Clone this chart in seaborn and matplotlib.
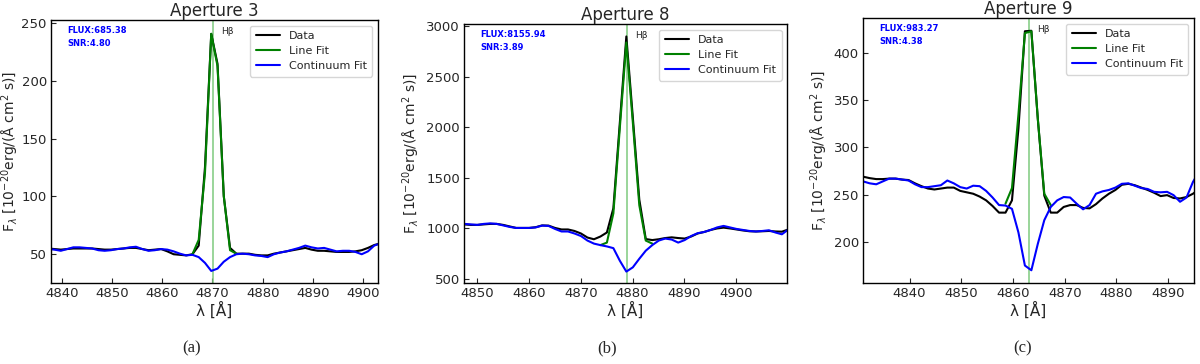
import numpy as np
import matplotlib
matplotlib.use("Agg")
import matplotlib.pyplot as plt
import matplotlib.transforms as mtransforms
import seaborn as sns

# --- Aperture 3 ---
wave_a = 4837.25 + 1.25 * np.arange(54)
data_a = [54.5, 54, 53.5, 54, 54.5, 54.5, 54.5, 54.5, 54, 53.5,
          53.5, 54, 54.5, 55, 55, 54, 53, 53.5, 54, 52,
          49.5, 49, 48.5, 49.5, 57, 125, 241, 215, 100, 55,
          50, 50, 50, 49, 48.5, 48.5, 50, 51, 52, 53,
          54, 55, 53.5, 52.5, 52.5, 52, 51.5, 51.5, 51.5, 52,
          53, 55, 57.5, 59]
cont_a = [54, 53.5, 52.5, 54, 55.5, 55.5, 55, 54.5, 53, 52.5,
          53, 54, 54.5, 55.5, 56, 54, 52.5, 53, 54, 53.5,
          52, 50, 48.5, 49, 47, 42, 35, 37, 43, 47,
          49.5, 50, 49.5, 48.5, 48, 47, 49.5, 51, 52, 53.5,
          55, 57, 55.5, 54.5, 55, 53.5, 52, 52.5, 52.5, 51.5,
          49.5, 52, 57, 59]
fitw_a = wave_a[23:31]
fit_a = [49.5, 62, 120, 241, 213, 100, 53, 50]

# --- Aperture 8 ---
wave_b = 4847.55 + 1.25 * np.arange(51)
data_b = [1040, 1035, 1035, 1040, 1045, 1045, 1035, 1020, 1005, 1005,
          1005, 1012, 1030, 1028, 1005, 990, 990, 975, 950, 910,
          893, 920, 960, 1200, 2050, 2900, 2100, 1285, 895, 885,
          893, 905, 912, 905, 900, 920, 950, 965, 985, 1000,
          1008, 1000, 990, 980, 972, 970, 972, 975, 970, 968,
          990]
cont_b = [1045, 1040, 1035, 1045, 1050, 1045, 1030, 1015, 1005, 1005,
          1005, 1010, 1028, 1025, 995, 970, 970, 950, 925, 880,
          850, 835, 822, 805, 680, 573, 615, 700, 780, 835,
          880, 900, 890, 860, 885, 925, 953, 965, 985, 1010,
          1025, 1010, 995, 985, 975, 970, 975, 982, 960, 942,
          990]
fitw_b = wave_b[21:30]
fit_b = [835, 860, 1150, 2000, 2840, 2050, 1230, 880, 850]

# --- Aperture 9 ---
wave_c = 4831.05 + 1.25 * np.arange(53)
data_c = [269, 267.5, 266.5, 266.5, 267, 267, 266, 265.5, 262, 259,
          256.5, 255.5, 256.5, 257.5, 257.5, 254, 252.5, 251, 248, 244,
          238, 231, 231, 244, 320, 423, 423.5, 330, 249, 231,
          231, 237, 239, 239, 236, 235.5, 240, 246, 251, 255,
          260.5, 261.5, 260, 257.5, 255, 252, 248.5, 249.5, 246.5, 246,
          247.5, 251, 256]
cont_c = [264, 262, 261, 264, 267, 267, 266, 265, 261, 258,
          258, 259, 260, 265, 262, 258, 256.5, 259.5, 259, 254,
          247, 239, 238.5, 235, 210, 175, 170, 198, 223, 237,
          244, 247.5, 247, 240.5, 234.5, 239, 251, 253.5, 255, 257.5,
          261.5, 262, 259.5, 257, 256, 253, 252.5, 253, 249.5, 242.5,
          247, 263.5, 275]
fitw_c = wave_c[22:30]
fit_c = [240.5, 257, 335, 421, 423, 330, 251, 239]

titles = ["Aperture 3", "Aperture 8", "Aperture 9"]
fluxes = ["FLUX:685.38", "FLUX:8155.94", "FLUX:983.27"]
snrs = ["SNR:4.80", "SNR:3.89", "SNR:4.38"]
hbeta = [4870.2, 4878.9, 4863.0]
xlims = [(4837.8, 4903.0), (4847.5, 4909.8), (4831.0, 4895.0)]
ylims = [(24.5, 253), (460, 3023), (156.5, 437)]
yticks = [[50, 100, 150, 200, 250], [500, 1000, 1500, 2000, 2500, 3000],
          [200, 250, 300, 350, 400]]
captions = ["(a)", "(b)", "(c)"]

sns.set_style("ticks")
plt.rcParams['font.family'] = ['DejaVu Sans']

fig = plt.figure(figsize=(12, 3.64), dpi=100)
boxes = [[0.0425, 0.2225, 0.2725, 0.7225],
         [0.3867, 0.2225, 0.2692, 0.7115],
         [0.7192, 0.2225, 0.2758, 0.7280]]
cap_x = [0.160, 0.506, 0.8525]
ylab_x = [-0.092, -0.13, -0.1]

panels = [(wave_a, data_a, cont_a, fitw_a, fit_a),
          (wave_b, data_b, cont_b, fitw_b, fit_b),
          (wave_c, data_c, cont_c, fitw_c, fit_c)]

for i, (w, d, c, fw, f) in enumerate(panels):
    ax = fig.add_axes(boxes[i])
    sns.lineplot(x=w, y=d, ax=ax, color='black', lw=1.5, label='Data')
    sns.lineplot(x=fw, y=f, ax=ax, color='green', lw=1.5, label='Line Fit')
    sns.lineplot(x=w, y=c, ax=ax, color='blue', lw=1.5, label='Continuum Fit')
    ax.axvline(hbeta[i], color='#7fca7f', lw=1.1, zorder=1)

    trans = mtransforms.blended_transform_factory(ax.transData, ax.transAxes)
    ax.text(hbeta[i] + 1.6, 0.957, 'Hβ', transform=trans, fontsize=6.5, va='center')
    ax.text(0.05, 0.96, fluxes[i], transform=ax.transAxes, color='blue',
            fontsize=6, fontweight='bold', va='center')
    ax.text(0.05, 0.91, snrs[i], transform=ax.transAxes, color='blue',
            fontsize=6, fontweight='bold', va='center')

    ax.set_xlim(*xlims[i])
    ax.set_ylim(*ylims[i])
    ax.set_yticks(yticks[i])
    ax.tick_params(direction='in', labelsize=9.5, length=3.5, pad=3)
    ax.set_title(titles[i], fontsize=12, pad=2)
    ax.set_xlabel('λ [Å]', fontsize=11, labelpad=1)
    ax.set_ylabel(r'F$_\lambda$ [10$^{-20}$erg/(Å cm$^2$ s)]', fontsize=10)
    ax.yaxis.set_label_coords(ylab_x[i], 0.5)
    for sp in ax.spines.values():
        sp.set_color('black')
        sp.set_linewidth(1.0)
    ax.legend(loc='upper right', fontsize=8, handlelength=2.2, borderpad=0.5,
              labelspacing=0.45)

    fig.text(cap_x[i], 0.044, captions[i], fontsize=12, ha='center', va='center',
             family=['Liberation Serif'])

fig.savefig('out.png', dpi=100)
